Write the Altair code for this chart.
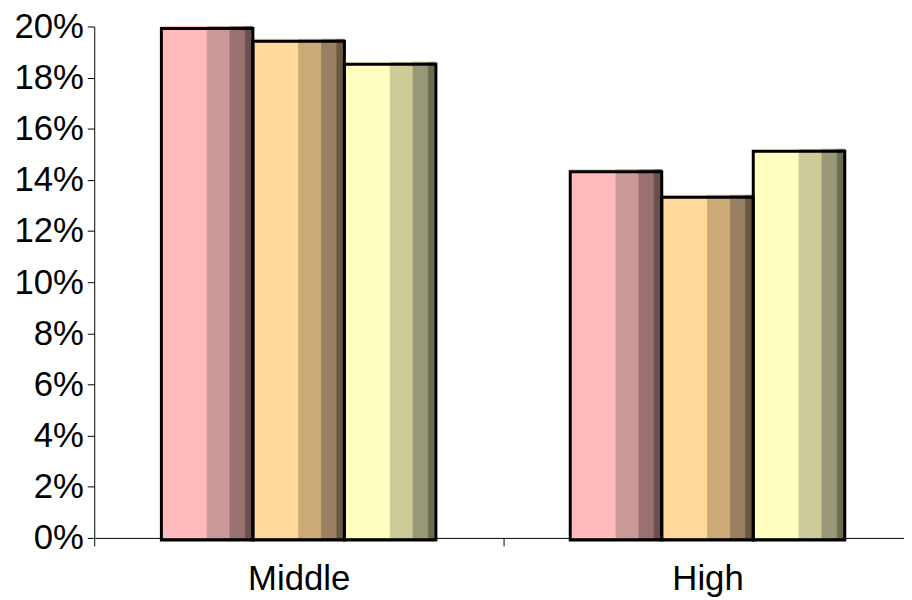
import altair as alt
import pandas as pd

# ---- data ----
categories = ["Middle", "High"]
series = ["S1", "S2", "S3"]
s1_values = [0.200, 0.144]
s2_values = [0.195, 0.134]
s3_values = [0.186, 0.152]
y_ticks = [0, 0.02, 0.04, 0.06, 0.08, 0.10, 0.12, 0.14, 0.16, 0.18, 0.20]

# ---- styling: each bar is drawn with 4 vertical shade stripes ----
shade_slices = [6, 3, 2, 1]  # relative widths of the light -> dark stripes
palettes = {
    "S1": ["#FFBBBB", "#CC9999", "#9A7070", "#6B4F50"],
    "S2": ["#FFD89A", "#CCAA78", "#9A8060", "#6B5840"],
    "S3": ["#FFFFC0", "#CCCC99", "#999977", "#6B6B50"],
}
FONT = "Liberation Sans"

series_values = {"S1": s1_values, "S2": s2_values, "S3": s3_values}
n_slices = sum(shade_slices)

rows = []
for ci, cat in enumerate(categories):
    for si, s in enumerate(series):
        slot = 0
        for shade, count in enumerate(shade_slices):
            for _ in range(count):
                rows.append({
                    "category": cat,
                    "series": s,
                    "slot": si * n_slices + slot,
                    "key": f"{s}_{shade}",
                    "value": series_values[s][ci],
                })
                slot += 1
stripes = pd.DataFrame(rows)

bars = pd.DataFrame([
    {"category": cat, "series": s, "value": series_values[s][ci]}
    for ci, cat in enumerate(categories) for s in series
])

color_domain = [f"{s}_{k}" for s in series for k in range(len(shade_slices))]
color_range = [palettes[s][k] for s in series for k in range(len(shade_slices))]

n_total = n_slices * len(series)
pad_slots = 8
slot_domain = list(range(-pad_slots, n_total + pad_slots))  # empty slots act as gap

x_enc = alt.X(
    "category:N",
    sort=categories,
    scale=alt.Scale(paddingInner=0, paddingOuter=0, range=[0, 825]),
    axis=alt.Axis(
        title=None, labelAngle=0, tickBand="extent", tickSize=8,
        labelFontSize=35, labelFont=FONT, labelColor="black",
        labelPadding=16, domainColor="black", tickColor="black",
    ),
)
y_enc = alt.Y(
    "value:Q",
    scale=alt.Scale(domain=[0, 0.2], nice=False),
    axis=alt.Axis(
        title=None, format=".0%", values=y_ticks, tickSize=7,
        labelFontSize=35, labelFont=FONT, labelColor="black",
        labelPadding=4, domainColor="black", tickColor="black", grid=False,
    ),
)

stripe_layer = alt.Chart(stripes).mark_bar(strokeWidth=0.8).encode(
    x=x_enc,
    xOffset=alt.XOffset("slot:O", scale=alt.Scale(domain=slot_domain, paddingInner=0, paddingOuter=0.8)),
    y=y_enc,
    color=alt.Color("key:N", scale=alt.Scale(domain=color_domain, range=color_range), legend=None),
    stroke=alt.Stroke("key:N", scale=alt.Scale(domain=color_domain, range=color_range), legend=None),
)

outline_layer = alt.Chart(bars).mark_bar(
    fillOpacity=0, stroke="black", strokeWidth=3, xOffset=2, yOffset=2
).encode(
    x=x_enc,
    xOffset=alt.XOffset("series:N", sort=series,
                        scale=alt.Scale(paddingInner=0, paddingOuter=0.734)),
    y=y_enc,
)

chart = alt.layer(stripe_layer, outline_layer).resolve_scale(
    xOffset="independent"
).properties(
    width=817,
    height=516,
    autosize=alt.AutoSizeParams(type="none"),
    padding={"left": 87, "top": 16, "right": 0, "bottom": 62},
).configure_view(stroke=None).configure_axis(grid=False)

chart.save("out.html", embed_options={"renderer": "svg", "actions": False})
